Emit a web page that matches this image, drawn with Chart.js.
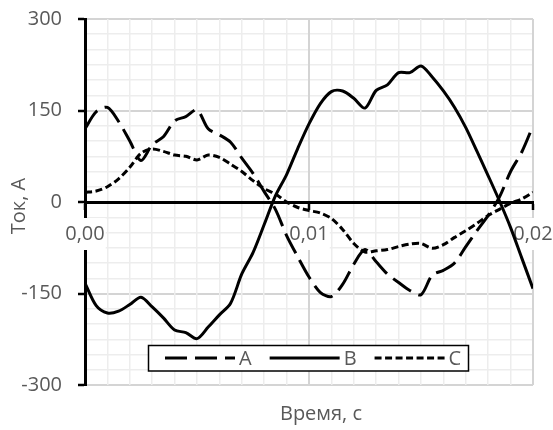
<!DOCTYPE html>
<html>
<head>
<meta charset="utf-8">
<script src="https://cdn.jsdelivr.net/npm/chart.js@4"></script>
<style>
html,body{margin:0;padding:0;background:#fff;}
#wrap{width:553px;height:430px;}
</style>
</head>
<body>
<div id="wrap"><canvas id="c" width="553" height="430"></canvas></div>
<script>
// time, s
const times = [0,0.0005,0.001,0.0015,0.002,0.0025,0.003,0.0035,0.004,0.0045,0.005,0.0055,0.006,0.0065,0.007,0.0075,0.008,0.0085,0.009,0.0095,0.01,0.0105,0.011,0.0115,0.012,0.0125,0.013,0.0135,0.014,0.0145,0.015,0.0155,0.016,0.0165,0.017,0.0175,0.018,0.0185,0.019,0.0195,0.02];
// current, A
const seriesA = [120,148,155,132,100,68,94,107,133,140,151,120,110,98,72,47,17,-12,-55,-90,-123,-148,-155,-135,-102,-78,-98,-118,-132,-145,-152,-120,-112,-100,-73,-47,-22,8,50,82,125];
const seriesB = [-133,-170,-182,-179,-168,-156,-172,-190,-210,-214,-224,-205,-185,-166,-118,-83,-37,10,45,88,128,161,181,182,170,154,183,192,212,212,223,205,182,155,122,83,43,2,-42,-92,-142];
const seriesC = [16,18,25,38,57,80,87,83,77,75,69,77,73,62,50,35,22,13,0,-9,-14,-18,-27,-45,-68,-82,-80,-78,-73,-69,-68,-76,-70,-58,-47,-35,-22,-12,-2,5,16];
const seriesNames = ['A','B','C'];
const xTickLabels = ['0,00','0,01','0,02'];
const yTickLabels = [-300,-150,0,150,300];
const xTitle = 'Время, с';
const yTitle = 'Ток, А';

const FONT = "'Open Sans', 'DejaVu Sans', sans-serif";
const TXT = '#595959';

function pts(vals){ return times.map((t,i)=>({x:t,y:vals[i]})); }

function isMajorX(v){ const k = v*100; return Math.abs(k-Math.round(k))<1e-6; }
function isMajorY(v){ return yTickLabels.indexOf(Math.round(v))>=0 && Math.abs(v-Math.round(v))<1e-6; }

const legendBox = {
  id:'legendBox',
  afterDraw(chart){
    const ctx = chart.ctx;
    ctx.save();
    ctx.fillStyle = '#fff';
    ctx.fillRect(148,345,321,26);
    ctx.lineWidth = 1.5;
    ctx.strokeStyle = '#000';
    ctx.setLineDash([]);
    ctx.strokeRect(148.5,345.5,320,25.5);
    ctx.font = '20px ' + FONT;
    ctx.textBaseline = 'middle';
    let x = 165;
    const y = 358;
    chart.data.datasets.forEach(ds=>{
      ctx.strokeStyle = ds.borderColor;
      ctx.lineWidth = ds.borderWidth;
      ctx.setLineDash(ds.borderDash || []);
      ctx.beginPath();
      ctx.moveTo(x,y); ctx.lineTo(x+70,y); ctx.stroke();
      ctx.setLineDash([]);
      ctx.fillStyle = TXT;
      ctx.fillText(ds.label, x+74, y+1);
      x += 74 + ctx.measureText(ds.label).width + 18;
    });
    ctx.restore();
  }
};

const axisTitles = {
  id:'axisTitles',
  afterDraw(chart){
    const ctx = chart.ctx;
    ctx.save();
    ctx.font = '20px ' + FONT;
    ctx.fillStyle = TXT;
    ctx.textAlign = 'center';
    ctx.textBaseline = 'middle';
    ctx.fillText(xTitle, 321, 414);
    ctx.translate(19,206);
    ctx.rotate(-Math.PI/2);
    ctx.fillText(yTitle, 0, 0);
    ctx.restore();
  }
};

new Chart(document.getElementById('c'), {
  type:'line',
  data:{
    datasets:[
      {label:seriesNames[0], data:pts(seriesA), borderColor:'#000', borderWidth:3, borderDash:[22,8], pointRadius:0, tension:0.3, fill:false},
      {label:seriesNames[1], data:pts(seriesB), borderColor:'#000', borderWidth:3, pointRadius:0, tension:0.3, fill:false},
      {label:seriesNames[2], data:pts(seriesC), borderColor:'#000', borderWidth:3, borderDash:[7,3.5], pointRadius:0, tension:0.3, fill:false}
    ]
  },
  options:{
    responsive:false,
    animation:false,
    events:[],
    layout:{padding:{top:19,right:20,bottom:45,left:0}},
    plugins:{legend:{display:false}, tooltip:{enabled:false}, title:{display:false}},
    scales:{
      y:{
        type:'linear', position:'left', min:-300, max:300,
        afterFit(s){ s.width = 85; s.paddingTop = 0; s.paddingBottom = 0; },
        ticks:{
          stepSize:25, autoSkip:false, padding:16, color:TXT,
          font:{family:FONT, size:20},
          callback:(v)=> isMajorY(v) ? String(Math.round(v)) : ''
        },
        grid:{
          color:(c)=> isMajorY(c.tick.value) ? '#d4d4d4' : '#ededed',
          lineWidth:(c)=> isMajorY(c.tick.value) ? 2 : 1.5,
          tickColor:(c)=> isMajorY(c.tick.value) ? '#000' : 'rgba(0,0,0,0)',
          tickLength:7, tickWidth:2.5
        },
        border:{color:'#000', width:3}
      },
      x:{
        type:'linear', position:{y:0}, min:0, max:0.02,
        afterFit(s){ s.paddingLeft = 0; s.paddingRight = 0; },
        ticks:{
          stepSize:0.001, autoSkip:false, maxRotation:0, padding:14, color:TXT,
          font:{family:FONT, size:20},
          callback:(v)=> isMajorX(v) ? xTickLabels[Math.round(v*100)] : '',
          showLabelBackdrop:true,
          backdropColor:(c)=> (c.tick && isMajorX(c.tick.value)) ? '#fff' : 'rgba(0,0,0,0)',
          backdropPadding:{x:1,y:4}
        },
        grid:{
          color:(c)=> isMajorX(c.tick.value) ? '#d4d4d4' : '#ededed',
          lineWidth:(c)=> isMajorX(c.tick.value) ? 2 : 1.5,
          tickColor:(c)=> isMajorX(c.tick.value) ? '#000' : 'rgba(0,0,0,0)',
          tickLength:6, tickWidth:2.5
        },
        border:{color:'#000', width:3}
      }
    }
  },
  plugins:[legendBox, axisTitles]
});
</script>
</body>
</html>
